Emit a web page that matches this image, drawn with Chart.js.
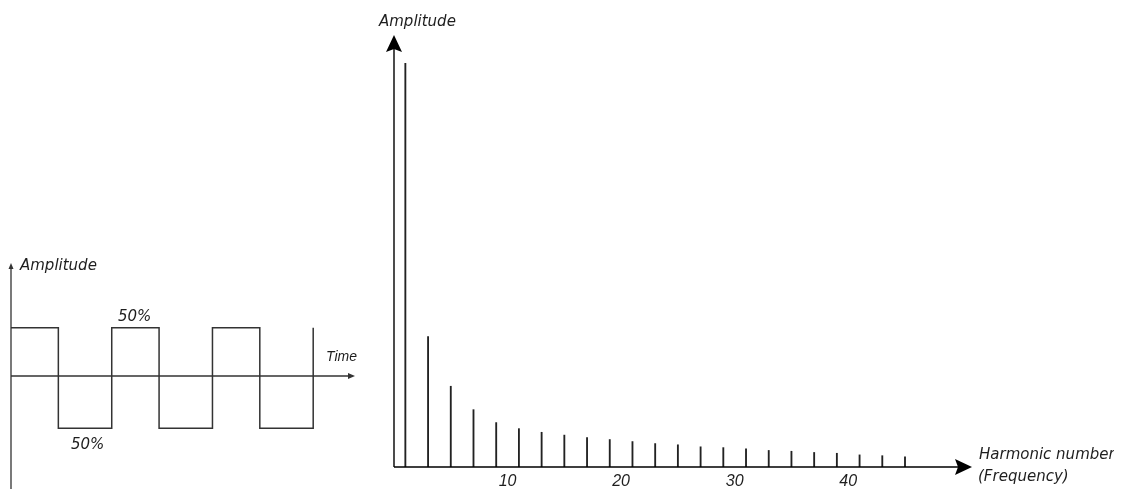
<!DOCTYPE html>
<html>
<head>
<meta charset="utf-8">
<title>Square wave and its harmonics</title>
<script src="https://cdn.jsdelivr.net/npm/chart.js@4/dist/chart.umd.min.js"></script>
<style>
  body { margin: 0; background: #fff; }
  #wrap { position: relative; width: 1127px; height: 489px; overflow: hidden; }
  canvas { position: absolute; top: 0; }
  #waveChart { left: 0; }
  #spectrumChart { left: 370px; }
</style>
</head>
<body>
<div id="wrap">
  <canvas id="waveChart" width="370" height="489"></canvas>
  <canvas id="spectrumChart" width="757" height="489"></canvas>
</div>
<script>
// square wave: time of each edge and the level held after it
const waveTime = [0, 0.94, 2, 2.94, 4, 4.94, 6];
const waveLevel = [1, -1.08, 1, -1.08, 1, -1.08, 1];

// odd harmonics and their amplitudes (fundamental = 1)
const harmonics = [1, 3, 5, 7, 9, 11, 13, 15, 17, 19, 21, 23, 25, 27, 29, 31, 33, 35, 37, 39, 41, 43, 45];
const amplitudes = [1.00, 0.323, 0.200, 0.142, 0.110, 0.095, 0.086, 0.079, 0.073, 0.068, 0.063, 0.058,
    0.055, 0.050, 0.048, 0.045, 0.041, 0.039, 0.036, 0.034, 0.030, 0.028, 0.025];

const tickLabels = [10, 20, 30, 40];

const labelFont = 'italic 15px "DejaVu Sans", sans-serif';
const textColor = '#1e1e1e';

// axes with arrow heads + the free text of the left chart
const waveAxes = {
    id: 'waveAxes',
    afterDraw(chart) {
        const ctx = chart.ctx;
        const area = chart.chartArea;
        const x0 = chart.scales.x.getPixelForValue(0);
        const y0 = chart.scales.y.getPixelForValue(0);
        ctx.save();
        ctx.strokeStyle = '#333';
        ctx.fillStyle = '#333';
        ctx.lineWidth = 1.3;
        ctx.beginPath();
        ctx.moveTo(x0, area.bottom + 2);
        ctx.lineTo(x0, area.top + 5);
        ctx.moveTo(x0, y0);
        ctx.lineTo(area.right - 5, y0);
        ctx.stroke();

        ctx.beginPath();
        ctx.moveTo(x0, area.top);
        ctx.lineTo(x0 - 2.5, area.top + 6);
        ctx.lineTo(x0 + 2.5, area.top + 6);
        ctx.closePath();
        ctx.fill();
        ctx.beginPath();
        ctx.moveTo(area.right, y0);
        ctx.lineTo(area.right - 7, y0 - 3);
        ctx.lineTo(area.right - 7, y0 + 3);
        ctx.closePath();
        ctx.fill();

        ctx.fillStyle = textColor;
        ctx.font = labelFont;
        ctx.fillText('Amplitude', x0 + 9, 270);
        ctx.fillText('50%', 118, 321);
        ctx.fillText('50%', 71, 449);
        ctx.font = 'italic 14px "Liberation Sans", Arial, sans-serif';
        ctx.fillText('Time', 326, 361);
        ctx.restore();
    }
};

const spectrumAxes = {
    id: 'spectrumAxes',
    afterDraw(chart) {
        const ctx = chart.ctx;
        const area = chart.chartArea;
        const x0 = chart.scales.x.getPixelForValue(0);
        const y0 = chart.scales.y.getPixelForValue(0);
        ctx.save();
        ctx.strokeStyle = '#000';
        ctx.fillStyle = '#000';
        ctx.lineWidth = 1.4;
        ctx.beginPath();
        ctx.moveTo(x0, y0);
        ctx.lineTo(x0, area.top + 14);
        ctx.moveTo(x0, y0);
        ctx.lineTo(area.right - 14, y0);
        ctx.stroke();

        // big arrow heads
        ctx.beginPath();
        ctx.moveTo(x0, area.top);
        ctx.lineTo(x0 - 8, area.top + 17);
        ctx.lineTo(x0, area.top + 14);
        ctx.lineTo(x0 + 8, area.top + 17);
        ctx.closePath();
        ctx.fill();
        ctx.beginPath();
        ctx.moveTo(area.right, y0);
        ctx.lineTo(area.right - 17, y0 - 8);
        ctx.lineTo(area.right - 14, y0);
        ctx.lineTo(area.right - 17, y0 + 8);
        ctx.closePath();
        ctx.fill();

        ctx.fillStyle = textColor;
        ctx.font = labelFont;
        ctx.fillText('Amplitude', x0 - 15, 26);
        // the source figure is cut off just after "numbe"
        ctx.save();
        ctx.beginPath();
        ctx.rect(area.right, y0 - 30, 142, 60);
        ctx.clip();
        ctx.fillText('Harmonic number', area.right + 7, y0 - 8);
        ctx.restore();
        ctx.fillText('(Frequency)', area.right + 6, y0 + 14);
        ctx.restore();
    }
};

new Chart(document.getElementById('waveChart'), {
    type: 'line',
    data: {
        datasets: [{
            data: waveTime.map((t, i) => ({ x: t, y: waveLevel[i] })),
            stepped: 'before',
            borderColor: '#333',
            borderWidth: 1.5,
            pointRadius: 0,
            fill: false
        }]
    },
    options: {
        responsive: false,
        animation: false,
        devicePixelRatio: 1,
        layout: { padding: { left: 11, right: 15, top: 263, bottom: 1 } },
        plugins: { legend: { display: false }, tooltip: { enabled: false } },
        scales: {
            x: { type: 'linear', min: 0, max: 6.83, display: false },
            y: { min: -2.32, max: 2.34, display: false }
        }
    },
    plugins: [waveAxes]
});

new Chart(document.getElementById('spectrumChart'), {
    type: 'bar',
    data: {
        datasets: [{
            data: harmonics.map((h, i) => ({ x: h, y: amplitudes[i] })),
            backgroundColor: '#222',
            barThickness: 1.2
        }]
    },
    options: {
        responsive: false,
        animation: false,
        devicePixelRatio: 1,
        layout: { padding: { left: 24, right: 155, top: 35, bottom: 0 } },
        plugins: { legend: { display: false }, tooltip: { enabled: false } },
        scales: {
            x: {
                type: 'linear',
                min: 0,
                max: 50.9,
                offset: false,
                grid: { display: false, drawTicks: false },
                border: { display: false },
                afterBuildTicks: (scale) => {
                    scale.ticks = tickLabels.map(v => ({ value: v }));
                },
                afterFit: (scale) => { scale.height = 22; },
                ticks: {
                    padding: 5,
                    color: textColor,
                    font: { family: '"Liberation Sans", Arial, sans-serif', size: 16, style: 'italic' }
                }
            },
            y: { min: 0, max: 1.07, display: false }
        }
    },
    plugins: [spectrumAxes]
});
</script>
</body>
</html>
